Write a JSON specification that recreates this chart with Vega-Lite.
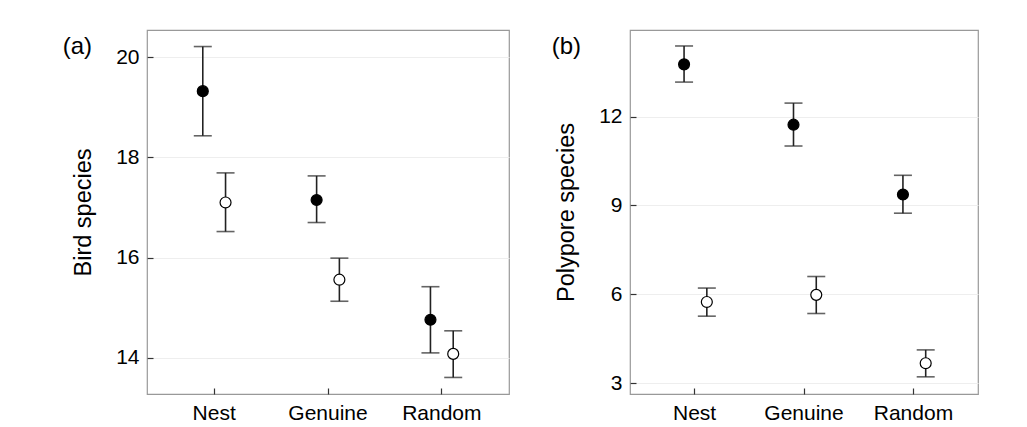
{
  "$schema": "https://vega.github.io/schema/vega-lite/v6.json",
  "padding": {"left": 62, "top": 29, "right": 5, "bottom": 5},
  "config": {
    "font": "Liberation Sans",
    "view": {"stroke": "#999", "strokeWidth": 1.2},
    "axis": {"domain": false, "grid": false, "labelFontSize": 21, "labelColor": "#000", "titleFontSize": 23.5, "titleFontWeight": "normal", "titleColor": "#000", "tickColor": "#333", "tickSize": -6, "tickWidth": 1.2},
    "title": {"fontSize": 24, "fontWeight": "normal", "anchor": "start", "frame": "bounds", "offset": -29, "color": "#000"},
    "concat": {"spacing": 41}
  },
  "datasets": {
    "birds": [
      {"site": "Nest", "set": "A", "mean": 19.32, "lower": 18.43, "upper": 20.21},
      {"site": "Nest", "set": "B", "mean": 17.10, "lower": 16.52, "upper": 17.69},
      {"site": "Genuine", "set": "A", "mean": 17.15, "lower": 16.70, "upper": 17.63},
      {"site": "Genuine", "set": "B", "mean": 15.56, "lower": 15.13, "upper": 15.99},
      {"site": "Random", "set": "A", "mean": 14.76, "lower": 14.10, "upper": 15.42},
      {"site": "Random", "set": "B", "mean": 14.08, "lower": 13.61, "upper": 14.54}
    ],
    "polypores": [
      {"site": "Nest", "set": "A", "mean": 13.77, "lower": 13.17, "upper": 14.39},
      {"site": "Nest", "set": "B", "mean": 5.74, "lower": 5.26, "upper": 6.21},
      {"site": "Genuine", "set": "A", "mean": 11.73, "lower": 11.01, "upper": 12.46},
      {"site": "Genuine", "set": "B", "mean": 5.98, "lower": 5.35, "upper": 6.60},
      {"site": "Random", "set": "A", "mean": 9.37, "lower": 8.74, "upper": 10.02},
      {"site": "Random", "set": "B", "mean": 3.67, "lower": 3.21, "upper": 4.12}
    ]
  },
  "hconcat": [
    {
      "width": 362, "height": 364,
      "title": {"text": "(a)", "dx": -9},
      "data": {"name": "birds"},
      "encoding": {
        "x": {"field": "site", "type": "nominal", "sort": ["Nest", "Genuine", "Random"], "scale": {"paddingInner": 0.6, "paddingOuter": 0.39}, "axis": {"title": null, "labelAngle": 0, "labelPadding": 14}},
        "xOffset": {"field": "set", "type": "nominal", "sort": ["A", "B"]}
      },
      "layer": [
        {"mark": {"type": "rule", "color": "#222", "strokeWidth": 1.6},
         "encoding": {
           "y": {"field": "lower", "type": "quantitative", "scale": {"domain": [13.28, 20.54], "nice": false, "zero": false}, "axis": {"title": "Bird species", "values": [14, 16, 18, 20], "grid": true, "gridColor": "#eeeeee", "labelPadding": 14, "titlePadding": 20}},
           "y2": {"field": "upper"}}},
        {"mark": {"type": "tick", "color": "#222", "size": 18, "thickness": 1.6},
         "encoding": {"y": {"field": "upper", "type": "quantitative"}}},
        {"mark": {"type": "tick", "color": "#222", "size": 18, "thickness": 1.6},
         "encoding": {"y": {"field": "lower", "type": "quantitative"}}},
        {"mark": {"type": "point", "shape": "circle", "filled": true, "size": 120, "stroke": "#000", "strokeWidth": 1.2, "opacity": 1},
         "encoding": {
           "y": {"field": "mean", "type": "quantitative"},
           "fill": {"field": "set", "type": "nominal", "scale": {"domain": ["A", "B"], "range": ["#000000", "#ffffff"]}, "legend": null}}}
      ]
    },
    {
      "width": 348, "height": 364,
      "title": {"text": "(b)", "dx": -3},
      "data": {"name": "polypores"},
      "encoding": {
        "x": {"field": "site", "type": "nominal", "sort": ["Nest", "Genuine", "Random"], "scale": {"paddingInner": 0.6, "paddingOuter": 0.39}, "axis": {"title": null, "labelAngle": 0, "labelPadding": 14}},
        "xOffset": {"field": "set", "type": "nominal", "sort": ["A", "B"]}
      },
      "layer": [
        {"mark": {"type": "rule", "color": "#222", "strokeWidth": 1.6},
         "encoding": {
           "y": {"field": "lower", "type": "quantitative", "scale": {"domain": [2.63, 14.93], "nice": false, "zero": false}, "axis": {"title": "Polypore species", "values": [3, 6, 9, 12], "grid": true, "gridColor": "#eeeeee", "labelPadding": 14, "titlePadding": 20}},
           "y2": {"field": "upper"}}},
        {"mark": {"type": "tick", "color": "#222", "size": 18, "thickness": 1.6},
         "encoding": {"y": {"field": "upper", "type": "quantitative"}}},
        {"mark": {"type": "tick", "color": "#222", "size": 18, "thickness": 1.6},
         "encoding": {"y": {"field": "lower", "type": "quantitative"}}},
        {"mark": {"type": "point", "shape": "circle", "filled": true, "size": 120, "stroke": "#000", "strokeWidth": 1.2, "opacity": 1},
         "encoding": {
           "y": {"field": "mean", "type": "quantitative"},
           "fill": {"field": "set", "type": "nominal", "scale": {"domain": ["A", "B"], "range": ["#000000", "#ffffff"]}, "legend": null}}}
      ]
    }
  ]
}
